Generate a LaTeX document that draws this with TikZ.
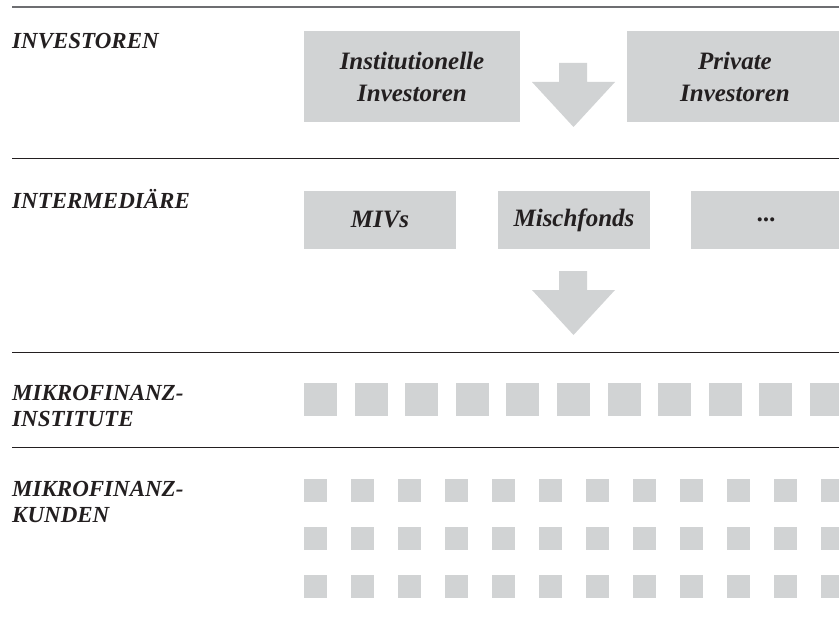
\documentclass[tikz,border=0pt]{standalone}
\usepackage{fontspec}
\setmainfont{Liberation Serif}
\definecolor{boxgray}{HTML}{D1D3D4}
\definecolor{ink}{HTML}{231F20}
\definecolor{rulegray}{HTML}{6D6E71}
\begin{document}
\begin{tikzpicture}[x=1bp,y=-1bp,
  box/.style={fill=boxgray, draw=none, inner sep=0pt, text=ink,
    font=\fontsize{25bp}{32bp}\selectfont\bfseries\itshape, align=center},
  lbl/.style={anchor=base west, inner sep=0pt, text=ink,
    font=\fontsize{23bp}{26bp}\selectfont\bfseries\itshape},
  rulethin/.style={draw=ink, line width=1bp},
  ruletop/.style={draw=rulegray, line width=1.2bp},
  blockarrow/.style={fill=boxgray, draw=none},
  sq/.style={fill=boxgray, draw=none}]
\clip (0,0) rectangle (839,630);
\fill[white] (0,0) rectangle (839,630);

% horizontal rules
\coordinate (r0a) at (12,7);   \coordinate (r0b) at (839,7);
\coordinate (r1a) at (12,159); \coordinate (r1b) at (839,159);
\coordinate (r2a) at (12,352); \coordinate (r2b) at (839,352);
\coordinate (r3a) at (12,447); \coordinate (r3b) at (839,447);
\draw[ruletop] (r0a) -- (r0b);
\draw[rulethin] (r1a) -- (r1b);
\draw[rulethin] (r2a) -- (r2b);
\draw[rulethin] (r3a) -- (r3b);

% row labels
\node[lbl] (lInv) at (12,49) {INVESTOREN};
\node[lbl] (lInt) at (12,209) {INTERMEDIÄRE};
\node[lbl] (lMfiA) at (12,400) {MIKROFINANZ-};
\node[lbl] (lMfiB) at (12,426) {INSTITUTE};
\node[lbl] (lKunA) at (12,496) {MIKROFINANZ-};
\node[lbl] (lKunB) at (12,522) {KUNDEN};

% investor boxes
\node[box, minimum width=216bp, minimum height=91bp] (inst) at (412,76.5) {Institutionelle\\Investoren};
\node[box, minimum width=216bp, minimum height=91bp] (priv) at (735,76.5) {Private\\Investoren};

% intermediary boxes
\node[box, minimum width=152bp, minimum height=58bp] (mivs) at (380,220) {MIVs};
\node[box, minimum width=152bp, minimum height=58bp] (misch) at (574,220) {Mischfonds};
\node[box, minimum width=152bp, minimum height=58bp] (dots) at (767,220) {...};

% block arrows
\fill[blockarrow] (559,63) -- (587,63) -- (587,82) -- (615,82) -- (573.5,127)
  -- (532,82) -- (559,82) -- cycle;
\fill[blockarrow] (559,271) -- (587,271) -- (587,290) -- (615,290) -- (573.5,335)
  -- (532,290) -- (559,290) -- cycle;

% microfinance institutions
\foreach \i in {0,...,10}
  \fill[sq] ({304+50.6*\i},383) rectangle ++(33,33);

% microfinance clients
\foreach \r in {0,1,2}
  \foreach \i in {0,...,11}
    \fill[sq] ({304+47*\i},{479+48*\r}) rectangle ++(23,23);
\end{tikzpicture}
\end{document}
